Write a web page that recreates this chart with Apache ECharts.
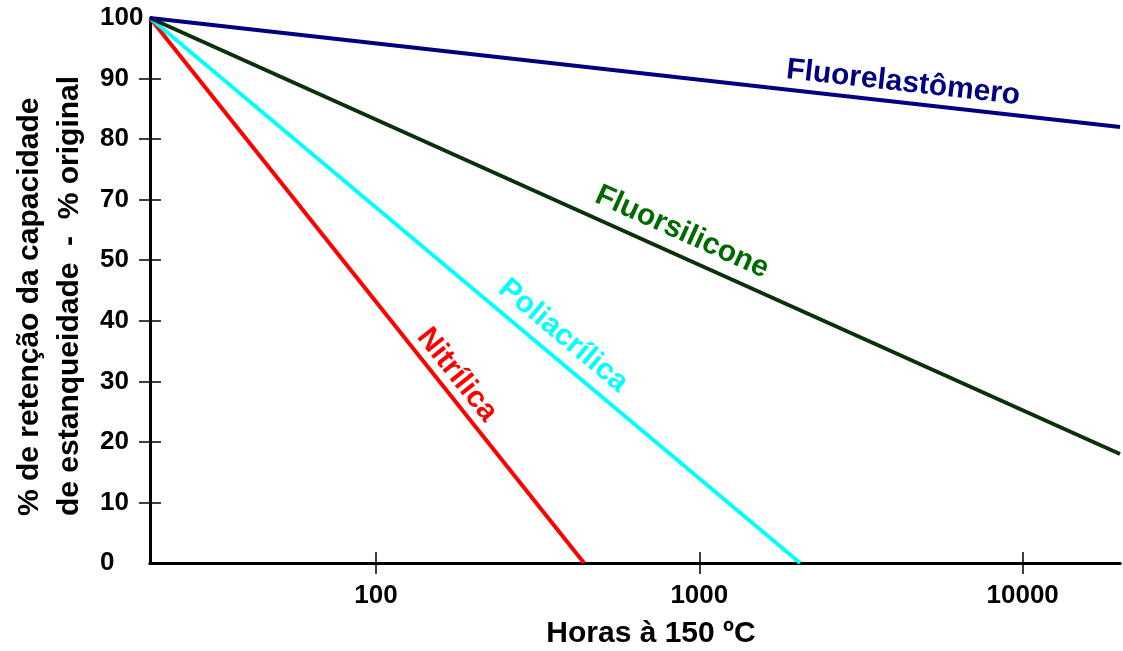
<!DOCTYPE html>
<html>
<head>
<meta charset="utf-8">
<script src="https://cdn.jsdelivr.net/npm/echarts@6/dist/echarts.min.js"></script>
<style>
  html, body { margin: 0; padding: 0; background: #fff; }
  #chart { width: 1123px; height: 651px; }
</style>
</head>
<body>
<div id="chart"></div>
<script>
// Elastomer families: retention of sealing capacity vs. hours at 150 ºC
const materials = ['Fluorelastômero', 'Fluorsilicone', 'Poliacrílica', 'Nitrílica'];
const startHours = [20, 20, 20, 20];
const startRetention = [100, 100, 100, 100];
const endHours = [20000, 20000, 2050, 440];
const endRetention = [80, 20, 0, 0];

// where each material name sits along its line (hours, %)
const labelHours = [4270, 884, 379, 178];
const labelRetention = [88.1, 60.7, 41.7, 34.5];

const lineColors = ['#000080', '#0c300c', '#00ffff', '#ff0000'];
const textColors = ['#000080', '#006a00', '#00ffff', '#ff0000'];

const xTickValues = [100, 1000, 10000];
const yTickLabels = ['0', '10', '20', '30', '40', '50', '70', '80', '90', '100'];

const xTitle = 'Horas à 150 ºC';
const yTitle = ['% de retenção da capacidade', 'de estanqueidade  -  % original'];

const FONT = '"Liberation Sans", Arial, Helvetica, sans-serif';
const yStep = 100 / (yTickLabels.length - 1);
const yLabelPositions = yTickLabels.map((_, i) => i * yStep);
const yTickPositions = yLabelPositions.slice(1, -1);

const chart = echarts.init(document.getElementById('chart'), null, { renderer: 'canvas' });

const axisLineStyle = { color: '#000', width: 3 };

const option = {
  backgroundColor: '#fff',
  animation: false,
  grid: { left: 150, right: 3, top: 18, bottom: 88, containLabel: false, outerBoundsMode: 'none' },
  xAxis: [
    {
      type: 'log', position: 'bottom', min: 20, max: 20000, logBase: 10,
      axisLine: { show: true, lineStyle: axisLineStyle },
      axisTick: { show: true, inside: false, length: 11, customValues: xTickValues,
                  lineStyle: { color: '#000', width: 1.5 } },
      axisLabel: { show: true, customValues: xTickValues, margin: 20,
                   fontFamily: FONT, fontWeight: 'bold', fontSize: 26, color: '#000',
                   formatter: v => String(Math.round(v)) },
      splitLine: { show: false }, minorTick: { show: false },
      name: xTitle, nameLocation: 'middle', nameGap: 56,
      nameTextStyle: { fontFamily: FONT, fontWeight: 'bold', fontSize: 30, color: '#000',
                       padding: [0, 0, 0, 32] }
    },
    {
      type: 'log', position: 'top', min: 20, max: 20000, logBase: 10,
      axisLine: { show: true, lineStyle: axisLineStyle },
      axisTick: { show: false }, axisLabel: { show: false }, splitLine: { show: false }
    },
    {
      type: 'log', position: 'bottom', min: 20, max: 20000, logBase: 10,
      axisLine: { show: false },
      axisTick: { show: true, inside: true, length: 11, customValues: xTickValues,
                  lineStyle: { color: '#000', width: 1.5 } },
      axisLabel: { show: false }, splitLine: { show: false }
    }
  ],
  yAxis: [
    {
      type: 'value', position: 'left', min: 0, max: 100,
      axisLine: { show: true, lineStyle: axisLineStyle },
      axisTick: { show: true, inside: false, length: 11, customValues: yTickPositions,
                  lineStyle: { color: '#000', width: 1.5 } },
      axisLabel: { show: true, customValues: yLabelPositions, margin: 50, align: 'left',
                   fontFamily: FONT, fontWeight: 'bold', fontSize: 26, color: '#000',
                   formatter: v => yTickLabels[Math.round(v / yStep)] },
      splitLine: { show: false }
    },
    {
      type: 'value', position: 'left', min: 0, max: 100,
      axisLine: { show: false },
      axisTick: { show: true, inside: true, length: 11, customValues: yTickPositions,
                  lineStyle: { color: '#000', width: 1.5 } },
      axisLabel: { show: false }, splitLine: { show: false }
    }
  ],
  series: materials.map((name, i) => ({
    name: name,
    type: 'line',
    xAxisIndex: 0,
    yAxisIndex: 0,
    showSymbol: false,
    symbol: 'none',
    lineStyle: { color: lineColors[i], width: 4 },
    data: [[startHours[i], startRetention[i]], [endHours[i], endRetention[i]]],
    z: 3 + (materials.length - i)
  })),
  graphic: [
    {
      type: 'text', x: 50, y: 516, rotation: Math.PI / 2,
      style: {
        text: yTitle.join('\n'), fill: '#000', align: 'left', verticalAlign: 'middle',
        font: 'bold 30px ' + FONT, lineHeight: 40
      }
    }
  ]
};

chart.setOption(option);

// material names laid along their lines
const nameLabels = materials.map((name, i) => {
  const p0 = chart.convertToPixel({ xAxisIndex: 0, yAxisIndex: 0 }, [startHours[i], startRetention[i]]);
  const p1 = chart.convertToPixel({ xAxisIndex: 0, yAxisIndex: 0 }, [endHours[i], endRetention[i]]);
  const c = chart.convertToPixel({ xAxisIndex: 0, yAxisIndex: 0 }, [labelHours[i], labelRetention[i]]);
  const angle = Math.atan2(p0[1] - p1[1], p1[0] - p0[0]);
  return {
    type: 'text', x: c[0], y: c[1], rotation: angle, z: 20,
    style: {
      text: name, fill: textColors[i], align: 'center', verticalAlign: 'middle',
      font: 'bold 30px ' + FONT
    }
  };
});
chart.setOption({ graphic: option.graphic.concat(nameLabels) });
</script>
</body>
</html>
